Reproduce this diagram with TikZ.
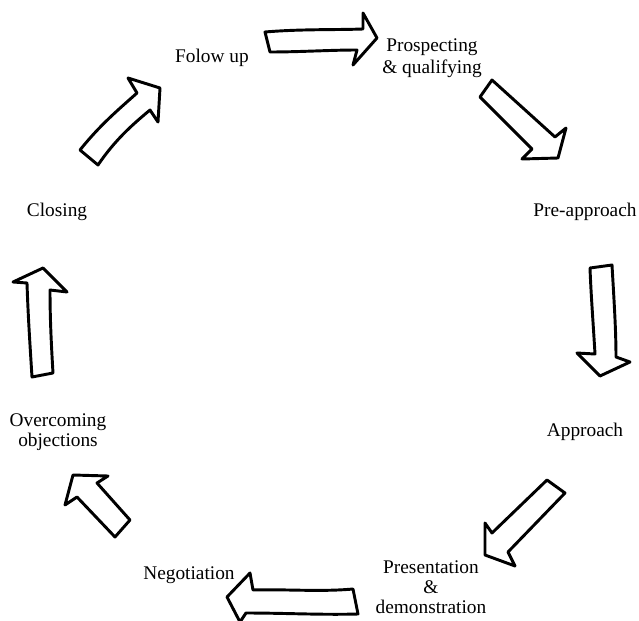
\documentclass[tikz,border=0pt]{standalone}
\usepackage{fontspec}
\setmainfont{Liberation Serif}

\tikzset{every picture/.style={line width=0.75pt}}
\tikzset{
  lbl/.style={inner sep=0.75pt, align=center, font=\fontsize{14.5}{15}\selectfont},
  blockarrow/.style={draw, fill=white, line width=2.2pt, line join=round}
}

\begin{document}
\begin{tikzpicture}[x=0.75pt,y=0.75pt,yscale=-1,xscale=1]
    \useasboundingbox (0,0) rectangle (639,621);
    % Text Node
    \node [lbl] (follow) at (212,58) {Folow up};
    % Text Node
    \node [lbl, font=\fontsize{14.5}{16.5}\selectfont] (prospect) at (432,58) {Prospecting\\\& qualifying};
    % Text Node
    \node [lbl] (preapp) at (585,212) {Pre-approach};
    % Text Node
    \node [lbl] (approach) at (585,432) {Approach};
    % Text Node
    \node [lbl] (present) at (431,587) {Presentation\\\&\\demonstration};
    % Text Node
    \node [lbl] (negot) at (189,575) {Negotiation};
    % Text Node
    \node [lbl] (overcome) at (58,432) {Overcoming\\objections};
    % Text Node
    \node [lbl] (closing) at (57,212) {Closing};
    % Arrow: follow up -> prospecting
    \draw [blockarrow] (265,32) .. controls (300,29) and (335,30) .. (363,29) -- (363,13) -- (377,38) -- (353,65) -- (357,50) .. controls (330,50) and (300,52) .. (270,52) -- cycle ;
    % Arrow: prospecting -> pre-approach
    \draw [blockarrow] (492,80) -- (555,137) -- (566,128) -- (558,158) -- (522,159) -- (532,149) -- (480,97) -- cycle ;
    % Arrow: pre-approach -> approach
    \draw [blockarrow] (590,268) -- (612,265) .. controls (614,300) and (616,330) .. (616,357) -- (630,362) -- (600,376) -- (577,353) -- (595,354) .. controls (593,320) and (591,295) .. (590,268) -- cycle ;
    % Arrow: approach -> presentation
    \draw [blockarrow] (547,480) -- (492,533) -- (485,523) -- (485,555) -- (515,566) -- (508,552) -- (565,493) -- cycle ;
    % Arrow: presentation -> negotiation
    \draw [blockarrow] (353,589) .. controls (320,592) and (285,589) .. (253,590) -- (250,573) -- (227,597) -- (240,622) -- (246,613) .. controls (285,613) and (320,615) .. (358,614) -- cycle ;
    % Arrow: negotiation -> overcoming objections
    \draw [blockarrow] (130,520) -- (97,483) -- (108,476) -- (73,475) -- (65,505) -- (77,497) -- (115,537) -- cycle ;
    % Arrow: overcoming objections -> closing
    \draw [blockarrow] (32,377) -- (53,373) .. controls (51,340) and (50,315) .. (50,290) -- (67,292) -- (43,268) -- (13,282) -- (27,283) .. controls (28,315) and (30,345) .. (32,377) -- cycle ;
    % Arrow: closing -> follow up
    \draw [blockarrow] (80,150) .. controls (100,125) and (118,110) .. (137,93) -- (128,78) -- (160,88) -- (158,122) -- (150,110) .. controls (132,125) and (115,140) .. (98,165) -- cycle ;
\end{tikzpicture}
\end{document}
